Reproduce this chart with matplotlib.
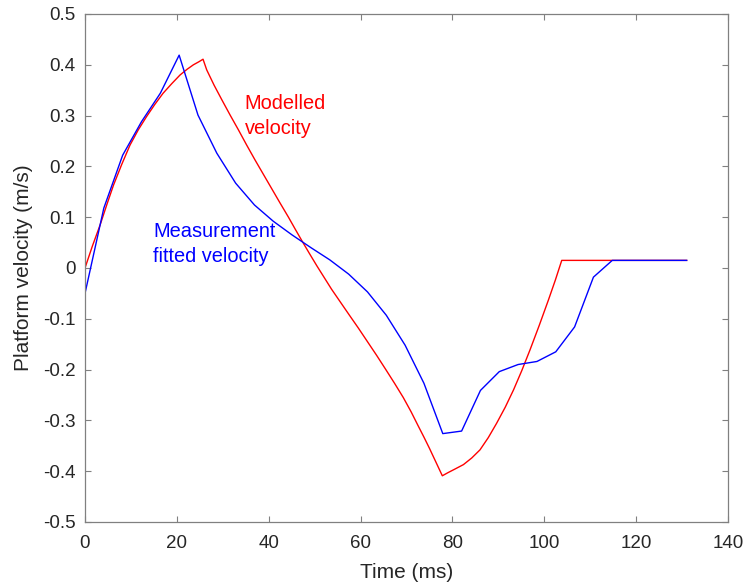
import matplotlib
matplotlib.use("Agg")
import matplotlib.pyplot as plt

# Measurement fitted velocity (blue)
meas_t = [0, 4.1, 8.2, 12.3, 16.4, 20.5, 24.6, 28.7, 32.8, 36.9, 41.0, 45.1, 49.2,
          53.3, 57.4, 61.5, 65.6, 69.7, 73.8, 77.9, 82.0, 86.1, 90.2, 94.3, 98.4,
          102.5, 106.6, 110.7, 114.8, 131.0]
meas_v = [-0.05, 0.118, 0.222, 0.288, 0.344, 0.419, 0.301, 0.226, 0.167, 0.124,
          0.092, 0.065, 0.040, 0.016, -0.012, -0.047, -0.093, -0.152, -0.227,
          -0.326, -0.321, -0.241, -0.204, -0.190, -0.184, -0.165, -0.116, -0.018,
          0.015, 0.015]

# Modelled velocity (red)
model_t = [0, 1.6, 3.3, 4.8, 6.2, 8.0, 9.8, 11.6, 13.4, 15.2, 17.0, 18.9, 20.7,
           22.2, 23.6, 24.8, 25.7, 26.5, 28.1, 29.8, 31.6, 33.4, 35.2, 37.0, 38.8,
           40.6, 42.4, 44.3, 45.8, 47.2, 48.9, 50.5, 52.1, 53.7, 55.6, 57.5, 59.5,
           61.5, 63.5, 65.5, 67.4, 69.3, 71.0, 72.5, 73.8, 75.0, 76.4, 77.8, 79.0,
           80.5, 82.4, 84.2, 86.0, 87.8, 89.6, 91.5, 93.3, 95.1, 96.9, 98.9, 100.9,
           102.4, 103.8, 131.0]
model_v = [0.0, 0.043, 0.085, 0.126, 0.163, 0.204, 0.242, 0.272, 0.298, 0.322,
           0.344, 0.363, 0.380, 0.391, 0.400, 0.406, 0.411, 0.390, 0.360, 0.331,
           0.301, 0.272, 0.242, 0.213, 0.185, 0.157, 0.129, 0.100, 0.076, 0.054,
           0.028, 0.004, -0.019, -0.042, -0.067, -0.092, -0.118, -0.145, -0.172,
           -0.200, -0.227, -0.255, -0.283, -0.310, -0.333, -0.355, -0.382, -0.409,
           -0.403, -0.396, -0.387, -0.374, -0.358, -0.334, -0.306, -0.274, -0.240,
           -0.202, -0.161, -0.113, -0.063, -0.024, 0.015, 0.015]

x_ticks = [0, 20, 40, 60, 80, 100, 120, 140]
y_ticks = [-0.5, -0.4, -0.3, -0.2, -0.1, 0, 0.1, 0.2, 0.3, 0.4, 0.5]
y_tick_labels = ["-0.5", "-0.4", "-0.3", "-0.2", "-0.1", "0", "0.1", "0.2", "0.3", "0.4", "0.5"]

plt.rcParams['font.family'] = ['Liberation Sans', 'DejaVu Sans']

fig = plt.figure(figsize=(7.47, 5.88), dpi=100)
ax = fig.add_axes([85/747, 1 - 522/588, (728 - 85)/747, (522 - 14)/588])

ax.plot(model_t, model_v, color=(1, 0, 0), lw=1.0)
ax.plot(meas_t, meas_v, color=(0, 0, 1), lw=1.0)

ax.set_xlim(0, 140)
ax.set_ylim(-0.5, 0.5)
ax.set_xticks(x_ticks)
ax.set_yticks(y_ticks)
ax.set_yticklabels(y_tick_labels)

gray = '#262626'
for s in ax.spines.values():
    s.set_color('#808080')
    s.set_linewidth(0.9)
ax.tick_params(direction='in', top=True, right=True, length=4, width=0.8,
               colors='#808080', labelcolor=gray, labelsize=13.5)
ax.tick_params(axis='x', pad=9)
ax.tick_params(axis='y', pad=7)

ax.set_xlabel('Time (ms)', fontsize=15, color=gray, labelpad=8)
ax.set_ylabel('Platform velocity (m/s)', fontsize=15, color=gray, labelpad=7)

ax.text(34.8, 0.299, 'Modelled\nvelocity', color=(1, 0, 0), fontsize=14.4,
        ha='left', va='center', linespacing=1.42)
ax.text(14.8, 0.047, 'Measurement\nfitted velocity', color=(0, 0, 1), fontsize=14.4,
        ha='left', va='center', linespacing=1.42)

fig.savefig('out.png', dpi=100)
